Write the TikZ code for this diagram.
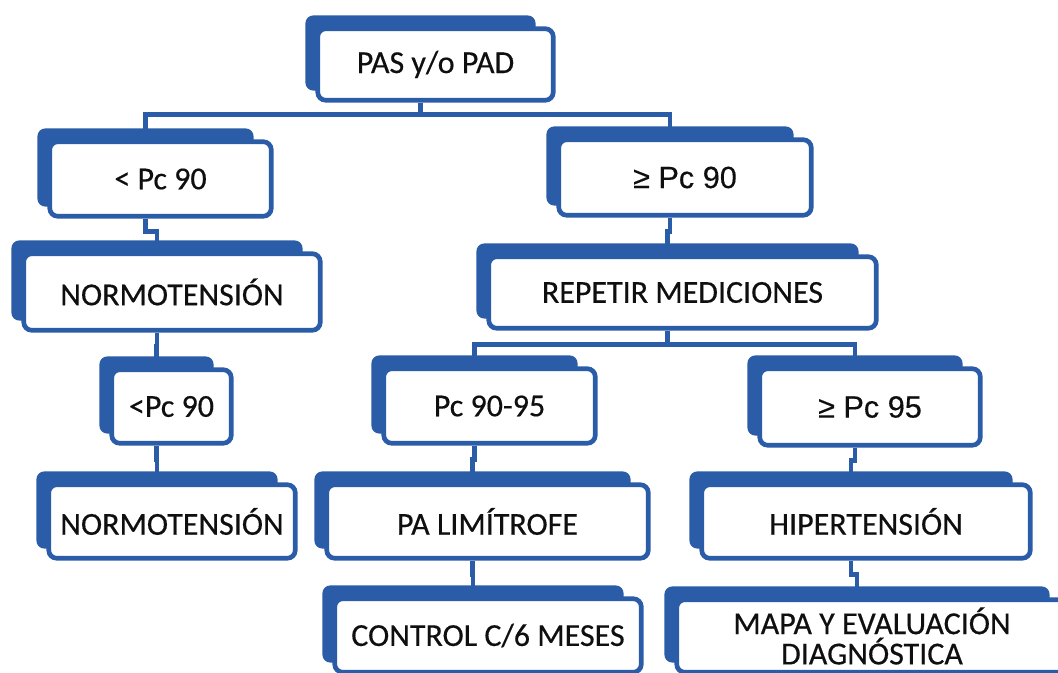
\documentclass[tikz,border=0pt]{standalone}
\usepackage{fontspec}
\setmainfont{Carlito}[FakeBold=0.4]
\newfontfamily\arialf{Liberation Sans}[FakeBold=0.3]
\usetikzlibrary{backgrounds}
\definecolor{bblue}{RGB}{42,92,168}
\definecolor{txt}{RGB}{15,15,15}
\tikzset{
  box/.style={draw=bblue, line width=3.5pt, fill=white, rounded corners=6pt,
    align=center, inner sep=0pt, text=txt, font=\fontsize{24}{20}\selectfont},
  conn/.style={draw=bblue, line width=3.5pt},
  shade/.style={fill=bblue, rounded corners=6pt}
}
\newcommand\fcbox[6]{%
  \pgfmathsetmacro\bw{(#4-#2)*0.75-2.6}%
  \pgfmathsetmacro\bh{(#5-#3)*0.75-2.6}%
  \node[box, minimum width=\bw pt, minimum height=\bh pt] (#1) at ({(#2+#4)/2},{(#3+#5)/2}) {#6};
  \begin{pgfonlayer}{background}
    \fill[shade] ([xshift=-7.5pt,yshift=8.25pt]#1.north west) rectangle ([xshift=-15pt,yshift=9pt]#1.south east);
  \end{pgfonlayer}}
\newcommand\fclink[3]{%
  \begin{pgfonlayer}{background}
    \draw[conn] ([xshift=-11.25pt]#1.south) -- ++(0,#3) -| ([xshift=-11.25pt]#2.north);
  \end{pgfonlayer}}
\begin{document}
\begin{tikzpicture}[x=0.75pt,y=-0.75pt]
\useasboundingbox (0,0) rectangle (1058,673);
\fcbox{pas}{316}{27}{555}{102}{PAS y/o PAD}
\fcbox{lta}{48}{140}{273}{218}{< Pc 90}
\fcbox{gea}{557}{138}{813}{217}{{\arialf\fontsize{23}{20}\selectfont ≥ Pc 90}}
\fcbox{noa}{22}{252}{322}{332}{NORMOTENSIÓN}
\fcbox{rep}{487}{255}{878}{330}{REPETIR MEDICIONES}
\fcbox{ltb}{110}{368}{233}{445}{<Pc 90}
\fcbox{nob}{47}{483}{297}{560}{NORMOTENSIÓN}
\fcbox{pcm}{382}{367}{597}{445}{Pc 90-95}
\fcbox{geb}{758}{367}{982}{447}{{\arialf\fontsize{23}{20}\selectfont ≥ Pc 95}}
\fcbox{pal}{325}{483}{650}{560}{PA LIMÍTROFE}
\fcbox{hip}{700}{483}{1032}{560}{HIPERTENSIÓN}
\fcbox{ctl}{333}{597}{643}{674}{CONTROL C/6 MESES}
\fcbox{map}{675}{598}{1069}{674}{MAPA Y EVALUACIÓN\\[1.5pt]DIAGNÓSTICA}
\fclink{pas}{lta}{12}
\fclink{pas}{gea}{12}
\fclink{lta}{noa}{13}
\fclink{gea}{rep}{14}
\fclink{noa}{ltb}{14}
\fclink{ltb}{nob}{14}
\fclink{rep}{pcm}{14}
\fclink{rep}{geb}{14}
\fclink{pcm}{pal}{14}
\fclink{geb}{hip}{13}
\fclink{pal}{ctl}{14}
\fclink{hip}{map}{14}
\end{tikzpicture}
\end{document}
